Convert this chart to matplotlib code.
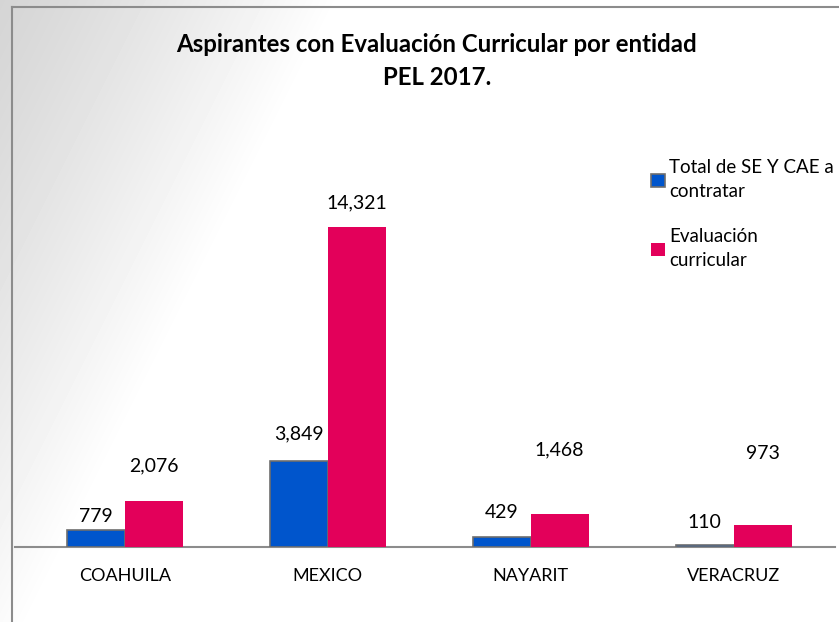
import numpy as np
import matplotlib.pyplot as plt
from matplotlib.lines import Line2D

entidades = ['COAHUILA', 'MEXICO', 'NAYARIT', 'VERACRUZ']
total_se_cae = [779, 3849, 429, 110]
evaluacion = [2076, 14321, 1468, 973]
serie_names = ['Total de SE Y CAE a\ncontratar', 'Evaluación\ncurricular']
titulo = 'Aspirantes con Evaluación Curricular por entidad\nPEL 2017.'

plt.rcParams['font.family'] = ['Lato', 'DejaVu Sans']

fig = plt.figure(figsize=(8.39, 6.22), dpi=100)

# fondo con degradado gris desde la izquierda
bg = fig.add_axes([0, 0, 1, 1], zorder=-10)
W, H = 839, 622
xx, yy = np.meshgrid(np.arange(W), np.arange(H))
t = np.clip((xx + 0.5 * yy) / 340.0, 0, 1) ** 1.2
grad = 0.835 + 0.165 * t
bg.imshow(grad, cmap='gray', vmin=0, vmax=1, aspect='auto', extent=[0, 1, 0, 1])
bg.set_axis_off()

# marco
fig.add_artist(Line2D([12 / W, 12 / W], [0, 1 - 7 / H], color='#8c8c8c', lw=1.5))
fig.add_artist(Line2D([12 / W, 1], [1 - 7 / H, 1 - 7 / H], color='#8c8c8c', lw=1.5))

ax = fig.add_axes([15 / W, 75 / H, 820 / W, 357 / H])
ax.patch.set_alpha(0)

x = np.arange(len(entidades))
w = 0.286
b1 = ax.bar(x - w / 2, total_se_cae, w, color='#0055CC', edgecolor='#6e6e6e', linewidth=1.2,
            label=serie_names[0], zorder=3)
b2 = ax.bar(x + w / 2, evaluacion, w, color='#E3005A', label=serie_names[1], zorder=3)

ax.set_xlim(-0.542, 3.5)
ax.set_ylim(0, 16000)

off_blue = [13, 27, 25, 22]
off_red = [35, 25, 64, 72]
for r, v, o in zip(b1, total_se_cae, off_blue):
    ax.annotate(f'{v:,}', (r.get_x() + r.get_width() / 2, v), xytext=(0, o),
                textcoords='offset pixels', ha='center', va='center', fontsize=14)
for r, v, o in zip(b2, evaluacion, off_red):
    ax.annotate(f'{v:,}', (r.get_x() + r.get_width() / 2, v), xytext=(0, o),
                textcoords='offset pixels', ha='center', va='center', fontsize=14)

for s in ['top', 'right', 'left']:
    ax.spines[s].set_visible(False)
ax.spines['bottom'].set_color('#8c8c8c')
ax.spines['bottom'].set_linewidth(1.5)
ax.set_yticks([])
ax.set_xticks(x)
ax.set_xticklabels(entidades, fontsize=13)
ax.tick_params(axis='x', length=0, pad=15)

fig.text(437 / W, 1 - 61 / H, titulo, ha='center', va='center', fontsize=17.3,
         fontweight='bold', linespacing=1.5)

leg = fig.legend(loc='upper left', bbox_to_anchor=(642 / W, 1 - 150 / H), frameon=False,
                 fontsize=13.5, handlelength=0.7, handleheight=0.7, handletextpad=0.25,
                 labelspacing=1.5, borderpad=0, alignment='left')
for txt in leg.get_texts():
    txt.set_linespacing(1.5)

fig.savefig('out.png', dpi=100)
